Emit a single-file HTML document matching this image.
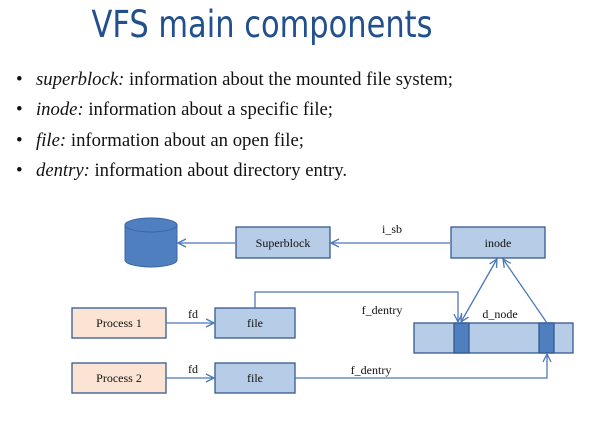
<!DOCTYPE html>
<html><head><meta charset="utf-8"><style>
html,body{margin:0;padding:0;background:#fff;width:595px;height:427px;overflow:hidden}
</style></head><body>
<svg width="595" height="427" viewBox="0 0 595 427" xmlns="http://www.w3.org/2000/svg">
<defs>
<marker id="a" markerWidth="10" markerHeight="10" refX="9" refY="5" orient="auto" markerUnits="userSpaceOnUse">
<path d="M1,1 L9,5 L1,9" fill="none" stroke="#4a78b8" stroke-width="1.3"/></marker>
<marker id="as" markerWidth="10" markerHeight="10" refX="1" refY="5" orient="auto" markerUnits="userSpaceOnUse">
<path d="M9,1 L1,5 L9,9" fill="none" stroke="#4a78b8" stroke-width="1.3"/></marker>
</defs>
<text x="262" y="37" text-anchor="middle" font-family="'Comic Sans MS','DejaVu Sans',sans-serif" font-size="37" fill="#22508e" textLength="341" lengthAdjust="spacingAndGlyphs">VFS main components</text>
<g font-family="'Liberation Serif',serif" font-size="19" fill="#111">
<text x="16" y="85">•</text><text x="36" y="85" textLength="417" lengthAdjust="spacingAndGlyphs"><tspan font-style="italic">superblock:</tspan> information about the mounted file system;</text>
<text x="16" y="115">•</text><text x="36" y="115" textLength="297" lengthAdjust="spacingAndGlyphs"><tspan font-style="italic">inode:</tspan> information about a specific file;</text>
<text x="16" y="146">•</text><text x="36" y="146" textLength="268" lengthAdjust="spacingAndGlyphs"><tspan font-style="italic">file:</tspan> information about an open file;</text>
<text x="16" y="176">•</text><text x="36" y="176" textLength="311" lengthAdjust="spacingAndGlyphs"><tspan font-style="italic">dentry:</tspan> information about directory entry.</text>
</g>
<!-- cylinder -->
<path d="M125,225 L125,260 A26,7 0 0 0 177,260 L177,225 Z" fill="#4f7fbf" stroke="#3a65a0" stroke-width="1"/>
<ellipse cx="151" cy="225" rx="26" ry="7" fill="#4f7fbf" stroke="#3a65a0" stroke-width="1"/>
<g stroke="#34598f" stroke-width="1.3" fill="#b7cce6">
<rect x="236" y="227" width="94" height="31"/>
<rect x="451" y="227" width="94" height="31"/>
<rect x="215" y="308" width="80" height="30"/>
<rect x="215" y="363" width="80" height="30"/>
<rect x="414" y="323" width="159" height="30"/>
<rect x="72" y="308" width="94" height="30" fill="#fce4d4"/>
<rect x="72" y="363" width="94" height="30" fill="#fce4d4"/>
<rect x="454" y="323" width="15" height="30" fill="#4f7fbf"/>
<rect x="539" y="323" width="15" height="30" fill="#4f7fbf"/>
</g>
<g stroke="#4a78b8" stroke-width="1.3" fill="none">
<line x1="235" y1="243" x2="178" y2="243" marker-end="url(#a)"/>
<line x1="450" y1="243" x2="331" y2="243" marker-end="url(#a)"/>
<line x1="166" y1="323" x2="214" y2="323" marker-end="url(#a)"/>
<line x1="166" y1="378" x2="214" y2="378" marker-end="url(#a)"/>
<polyline points="255,308 255,292 458,292 458,322" marker-end="url(#a)"/>
<polyline points="295,378 547,378 547,354" marker-end="url(#a)"/>
<line x1="461" y1="322" x2="497" y2="259" marker-start="url(#as)" marker-end="url(#a)"/>
<line x1="547" y1="323" x2="503" y2="259" marker-end="url(#a)"/>
</g>
<g font-family="'Liberation Serif',serif" font-size="12" fill="#111" text-anchor="middle">
<text x="283" y="247">Superblock</text>
<text x="498" y="247">inode</text>
<text x="119" y="327">Process 1</text>
<text x="119" y="382">Process 2</text>
<text x="255" y="327">file</text>
<text x="255" y="382">file</text>
<text x="193" y="318">fd</text>
<text x="193" y="373">fd</text>
<text x="392" y="233">i_sb</text>
<text x="382" y="314">f_dentry</text>
<text x="371" y="374">f_dentry</text>
<text x="500" y="318">d_node</text>
</g>
</svg>
</body></html>
